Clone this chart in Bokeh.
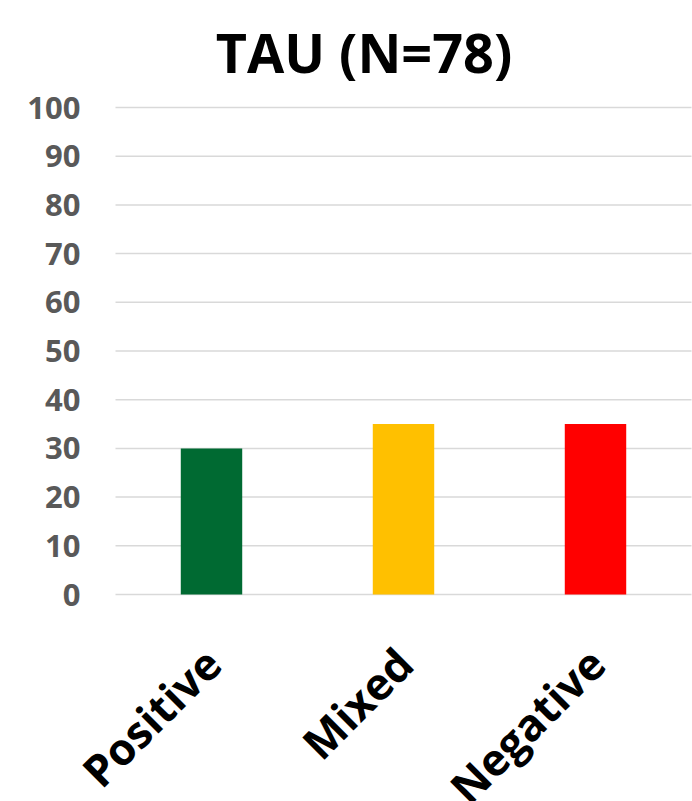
from math import pi

from bokeh.core.properties import value
from bokeh.embed import file_html
from bokeh.models import Range1d
from bokeh.plotting import figure
from bokeh.resources import INLINE

categories = ["Positive", "Mixed", "Negative"]
values = [30, 35, 35]
colors = ["#006A32", "#FFC000", "#FF0000"]
y_ticks = list(range(0, 101, 10))
y_tick_labels = [str(t) for t in y_ticks]
title_text = "TAU (N=78)"

FONT = "Open Sans"
W, H = 692, 801

# pixel geometry of the plotting area inside the canvas
AREA_LEFT, AREA_RIGHT = 115, 691
AREA_TOP, AREA_BOTTOM = 107, 594
Y_MAX = 100

px_per_cat = (AREA_RIGHT - AREA_LEFT) / len(categories)
px_per_unit = (AREA_BOTTOM - AREA_TOP) / Y_MAX

# the frame fills the whole canvas so that title and labels are ordinary text glyphs
x_range = Range1d(-AREA_LEFT / px_per_cat, (W - AREA_LEFT) / px_per_cat)
y_range = Range1d(-(H - AREA_BOTTOM) / px_per_unit, AREA_BOTTOM / px_per_unit)

p = figure(
    width=W,
    height=H,
    x_range=x_range,
    y_range=y_range,
    output_backend="svg",
    toolbar_location=None,
    x_axis_location=None,
    y_axis_location=None,
    min_border=0,
)
p.outline_line_color = None
p.grid.visible = False

centers = [i + 0.5 for i in range(len(categories))]

# horizontal gridlines across the category span
p.segment(x0=0, x1=len(categories), y0=y_ticks, y1=y_ticks,
          line_color="#D9D9D9", line_width=1.5)

p.vbar(x=centers, top=values, bottom=0, width=0.32, color=colors, line_color=None)

# value-axis labels
p.text(x=-35 / px_per_cat, y=y_ticks, text=y_tick_labels,
       text_align="right", text_baseline="middle",
       text_font=value(FONT), text_font_size="31px", text_font_style="bold",
       text_color="#595959")

# slanted category names under each bar
p.text(x=centers, y=0, text=categories, angle=pi / 4,
       x_offset=1, y_offset=61,
       text_align="right", text_baseline="middle",
       text_font=value(FONT), text_font_size="44px", text_font_style="bold",
       text_color="#000000")

# chart title
p.text(x=[(363.5 - AREA_LEFT) / px_per_cat], y=[(AREA_BOTTOM - 51) / px_per_unit],
       text=[title_text], text_align="center", text_baseline="alphabetic",
       text_font=value(FONT), text_font_size="54px", text_font_style="bold",
       text_color="#000000")

open("out.html", "w").write(file_html(p, INLINE))
